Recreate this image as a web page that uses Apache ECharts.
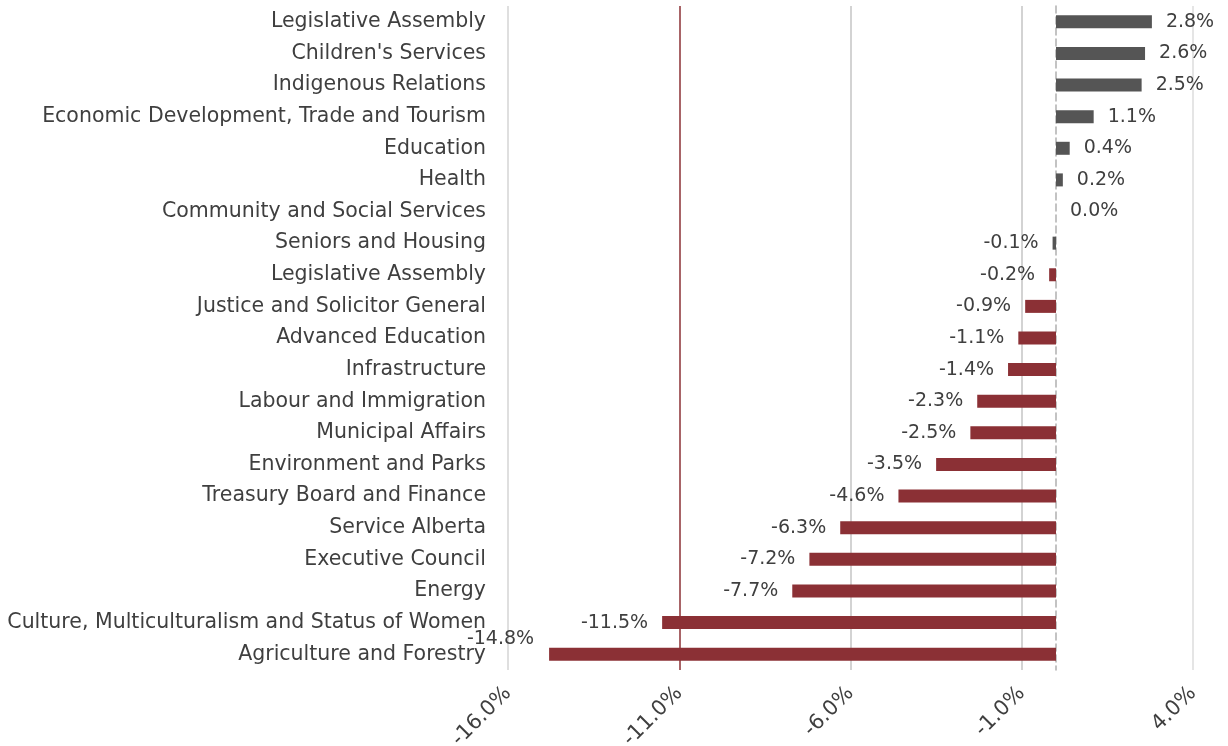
<!DOCTYPE html>
<html>
<head>
<meta charset="utf-8">
<title>Change by ministry</title>
<script src="https://cdn.jsdelivr.net/npm/echarts@6/dist/echarts.min.js"></script>
<style>
  html, body { margin: 0; padding: 0; background: #ffffff; }
  #chart { width: 1228px; height: 746px; }
</style>
</head>
<body>
<div id="chart"></div>
<script>
// Ministries, top to bottom
const ministries = [
  'Legislative Assembly',
  "Children's Services",
  'Indigenous Relations',
  'Economic Development, Trade and Tourism',
  'Education',
  'Health',
  'Community and Social Services',
  'Seniors and Housing',
  'Legislative Assembly',
  'Justice and Solicitor General',
  'Advanced Education',
  'Infrastructure',
  'Labour and Immigration',
  'Municipal Affairs',
  'Environment and Parks',
  'Treasury Board and Finance',
  'Service Alberta',
  'Executive Council',
  'Energy',
  'Culture, Multiculturalism and Status of Women',
  'Agriculture and Forestry'
];

// Percentage change for each ministry
const changePct = [2.8, 2.6, 2.5, 1.1, 0.4, 0.2, 0.0, -0.1, -0.2, -0.9, -1.1, -1.4,
  -2.3, -2.5, -3.5, -4.6, -6.3, -7.2, -7.7, -11.5, -14.8];

// Value axis ticks
const axisTicks = [-16, -11, -6, -1, 4];

const FONT = 'DejaVu Sans';
const TEXT = '#3f3f3f';
const GREY_BAR = '#555555';
const RED_BAR = '#8b3035';
const minVal = Math.min(...changePct);

const barData = changePct.map(v => {
  const item = {
    value: v,
    itemStyle: { color: v >= -0.1 ? GREY_BAR : RED_BAR },
    label: { position: v < 0 ? 'left' : 'right' }
  };
  // the longest bar's label would run into the category names, so lift it
  if (v === minVal) item.label.offset = [-1, -15];
  return item;
});

const chart = echarts.init(document.getElementById('chart'));
chart.setOption({
  animation: false,
  backgroundColor: '#ffffff',
  grid: { left: 508, right: 35, top: 6, bottom: 76, containLabel: false, outerBoundsMode: 'none' },
  xAxis: {
    type: 'value',
    min: axisTicks[0],
    max: axisTicks[axisTicks.length - 1],
    interval: axisTicks[1] - axisTicks[0],
    axisLine: { show: false },
    axisTick: { show: false },
    splitLine: {
      show: true,
      lineStyle: { color: ['#d4d4d4', '#8b3035', '#c4c4c4', '#c4c4c4', '#dcdcdc'], width: 1.5 }
    },
    axisLabel: {
      rotate: 45,
      margin: 20,
      color: TEXT,
      fontFamily: FONT,
      fontSize: 21,
      formatter: v => v.toFixed(1) + '%'
    }
  },
  yAxis: {
    type: 'category',
    data: ministries,
    inverse: true,
    axisTick: { show: false },
    axisLine: {
      show: true,
      onZero: true,
      lineStyle: { color: '#b0b0b0', type: [7, 4], width: 1.5 }
    },
    axisLabel: {
      margin: 22,
      color: TEXT,
      fontFamily: FONT,
      fontSize: 20.5
    },
    splitLine: { show: false }
  },
  series: [{
    type: 'bar',
    data: barData,
    barWidth: 13,
    label: {
      show: true,
      distance: 14,
      color: TEXT,
      fontFamily: FONT,
      fontSize: 19,
      formatter: p => p.value.toFixed(1) + '%'
    }
  }]
});
</script>
</body>
</html>
